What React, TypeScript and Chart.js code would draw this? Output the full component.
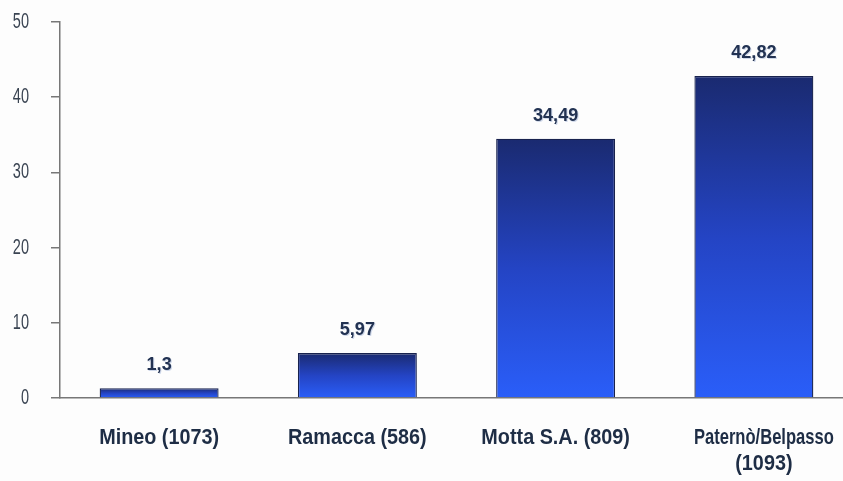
import React, { useEffect, useRef } from "react";
import { Chart, registerables } from "chart.js";

Chart.register(...registerables);

const categories: string[][] = [
  ["Mineo (1073)"],
  ["Ramacca (586)"],
  ["Motta S.A. (809)"],
  ["Paternò/Belpasso", "(1093)"],
];
const values: number[] = [1.3, 5.97, 34.49, 42.82];
const valueLabels: string[] = ["1,3", "5,97", "34,49", "42,82"];
const yTicks: number[] = [0, 10, 20, 30, 40, 50];

const FONT = "'Liberation Sans', Arial, sans-serif";

function drawCondensed(ctx: any, text: string, x: number, y: number, sx: number, align: "center" | "right") {
  ctx.save();
  ctx.translate(x, y);
  ctx.scale(sx, 1);
  ctx.textAlign = align;
  ctx.fillText(text, 0, 0);
  ctx.restore();
}

const labelPlugin = {
  id: "customLabels",
  afterDraw(chart: any) {
    const ctx = chart.ctx;
    const xs = chart.scales.x;
    const ys = chart.scales.y;
    const meta = chart.getDatasetMeta(0);
    ctx.save();

    // value labels above bars
    ctx.font = `bold 19px ${FONT}`;
    ctx.textBaseline = "alphabetic";
    meta.data.forEach((bar: any, i: number) => {
      const x = bar.x;
      const y = bar.y - 18;
      ctx.fillStyle = "rgba(175,190,220,0.6)";
      drawCondensed(ctx, valueLabels[i], x + 1, y + 1, 0.95, "center");
      ctx.fillStyle = "#223252";
      drawCondensed(ctx, valueLabels[i], x, y, 0.95, "center");
    });

    // y tick labels
    ctx.font = `22px ${FONT}`;
    ctx.textBaseline = "middle";
    ctx.fillStyle = "#3a4452";
    yTicks.forEach((v) => {
      const y = ys.getPixelForValue(v);
      drawCondensed(ctx, String(v), 29, y, 0.66, "right");
    });

    // x tick labels
    ctx.font = `bold 22px ${FONT}`;
    ctx.textBaseline = "alphabetic";
    ctx.fillStyle = "#1e2d45";
    categories.forEach((lines, i) => {
      const cx = xs.getPixelForTick(i);
      lines.forEach((line, j) => {
        const w = ctx.measureText(line).width;
        const sx = lines.length > 1 && j === 0 ? 140 / w : 0.9;
        drawCondensed(ctx, line, cx + (lines.length > 1 ? 10 : 0), xs.top + 46 + j * 26, sx, "center");
      });
    });

    ctx.restore();
  },
};

export default function App() {
  const ref = useRef<HTMLCanvasElement | null>(null);
  useEffect(() => {
    if (!ref.current) return;
    const chart = new Chart(ref.current, {
      type: "bar",
      data: {
        labels: categories.map((l) => l.join(" ")),
        datasets: [
          {
            data: values,
            backgroundColor: (c: any) => {
              const ch = c.chart;
              const ys = ch.scales && ch.scales.y;
              if (!ys || c.raw === undefined) return "#2447c8";
              const top = ys.getPixelForValue(c.raw);
              const bottom = ys.getPixelForValue(0);
              if (!isFinite(top) || !isFinite(bottom) || top === bottom) return "#2447c8";
              const g = ch.ctx.createLinearGradient(0, top, 0, bottom);
              g.addColorStop(0, "#1a2a70");
              g.addColorStop(0.5, "#2444c4");
              g.addColorStop(1, "#2a5ef9");
              return g;
            },
            borderColor: "#18224e",
            borderWidth: 1.3,
            barPercentage: 0.6,
            categoryPercentage: 1,
          },
        ],
      },
      options: {
        animation: false,
        responsive: false,
        maintainAspectRatio: false,
        layout: { padding: { top: 22, right: 0, bottom: 0, left: 0 } },
        plugins: {
          legend: { display: false },
          tooltip: { enabled: false },
          title: { display: false },
        },
        scales: {
          x: {
            grid: { display: false, drawTicks: false },
            border: { display: true, color: "#777777", width: 1.5 },
            ticks: { display: false },
            afterFit: (s: any) => {
              s.height = 83;
            },
          },
          y: {
            min: 0,
            max: 50,
            afterBuildTicks: (s: any) => {
              s.ticks = yTicks.map((v) => ({ value: v }));
            },
            grid: {
              display: true,
              drawOnChartArea: false,
              drawTicks: true,
              tickLength: 9,
              color: "#777777",
              lineWidth: 1.5,
            },
            border: { display: true, color: "#777777", width: 1.5 },
            ticks: { display: false },
            afterFit: (s: any) => {
              s.width = 60;
            },
          },
        },
      },
      plugins: [labelPlugin],
    });
    return () => chart.destroy();
  }, []);

  return (
    <div
      style={{
        position: "fixed",
        left: 0,
        top: 0,
        width: 843,
        height: 481,
        overflow: "hidden",
        background: "#fdfdfd",
      }}
    >
      <canvas
        ref={ref}
        width={853}
        height={481}
        style={{ position: "absolute", left: 0, top: 0, width: 853, height: 481 }}
      />
    </div>
  );
}
